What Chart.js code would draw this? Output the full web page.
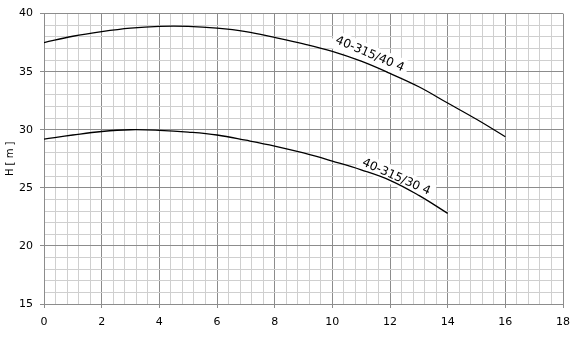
<!DOCTYPE html>
<html>
<head>
<meta charset="utf-8">
<script src="https://cdn.jsdelivr.net/npm/chart.js@4.4.1/dist/chart.umd.min.js"></script>
<style>
  body { margin: 0; background: #fff; }
  #wrap { width: 580px; height: 340px; }
</style>
</head>
<body>
<div id="wrap"><canvas id="myChart" width="580" height="340"></canvas></div>
<script>
// flow Q (x) and head H for both pump curves
var flow40 = [0, 1, 2, 3, 4, 5, 6, 7, 8, 9, 10, 11, 12, 13, 14, 15, 16];
var head40 = [37.5, 38.05, 38.45, 38.75, 38.9, 38.9, 38.75, 38.45, 37.95, 37.4, 36.75, 35.9, 34.85, 33.7, 32.3, 30.9, 29.4];
var flow30 = [0, 1, 2, 3, 4, 5, 6, 7, 8, 9, 10, 11, 12, 13, 14];
var head30 = [29.2, 29.55, 29.85, 30.0, 29.95, 29.8, 29.55, 29.1, 28.6, 28.0, 27.3, 26.55, 25.65, 24.35, 22.8];

var seriesNames = ['40-315/40 4', '40-315/30 4'];
// where each curve label sits (data coords) and its slope in degrees
var labelPos = [[11.3, 36.5, 23], [12.22, 25.92, 24]];

var xTicks = { min: 0, max: 18, major: 2, minor: 0.4 };
var yTicks = { min: 15, max: 40, major: 5, minor: 1 };

function toPoints(xs, ys) {
  var pts = [];
  for (var i = 0; i < xs.length; i++) pts.push({ x: xs[i], y: ys[i] });
  return pts;
}

function isMajor(v, step) {
  return Math.abs(v / step - Math.round(v / step)) < 1e-6;
}

// labels go under the curves, the white box only hides the grid
var curveLabels = {
  id: 'curveLabels',
  beforeDatasetsDraw: function (chart) {
    var c = chart.ctx;
    var xs = chart.scales.x, ys = chart.scales.y;
    c.save();
    c.font = '12px "DejaVu Sans"';
    for (var i = 0; i < seriesNames.length; i++) {
      var px = xs.getPixelForValue(labelPos[i][0]);
      var py = ys.getPixelForValue(labelPos[i][1]);
      var w = c.measureText(seriesNames[i]).width;
      c.save();
      c.translate(px, py);
      c.rotate(labelPos[i][2] * Math.PI / 180);
      c.fillStyle = '#fff';
      c.fillRect(-w / 2 - 4, -9, w + 8, 18);
      c.fillStyle = '#000';
      c.textAlign = 'center';
      c.textBaseline = 'middle';
      c.fillText(seriesNames[i], 0, 0);
      c.restore();
    }
    c.restore();
  }
};

function gridOpts(step) {
  return {
    color: function (ctx) { return isMajor(ctx.tick.value, step) ? '#8c8c8c' : '#cfcfcf'; },
    tickColor: function (ctx) { return isMajor(ctx.tick.value, step) ? '#8c8c8c' : 'rgba(0,0,0,0)'; },
    tickLength: 4,
    lineWidth: 1,
    drawTicks: true
  };
}

var ctx = document.getElementById('myChart');
new Chart(ctx, {
  type: 'line',
  data: {
    datasets: [{
      label: seriesNames[0],
      data: toPoints(flow40, head40),
      borderColor: '#000',
      borderWidth: 1.3,
      pointRadius: 0,
      tension: 0.4,
      fill: false
    }, {
      label: seriesNames[1],
      data: toPoints(flow30, head30),
      borderColor: '#000',
      borderWidth: 1.3,
      pointRadius: 0,
      tension: 0.4,
      fill: false
    }]
  },
  options: {
    responsive: false,
    animation: false,
    layout: { padding: { top: 11, right: 17, left: 0, bottom: 0 } },
    plugins: { legend: { display: false }, tooltip: { enabled: false } },
    scales: {
      x: {
        type: 'linear',
        min: xTicks.min,
        max: xTicks.max,
        border: { color: '#8c8c8c' },
        grid: gridOpts(xTicks.major),
        ticks: {
          stepSize: xTicks.minor,
          autoSkip: false,
          maxRotation: 0,
          padding: 8,
          color: '#000',
          font: { family: 'DejaVu Sans', size: 11 },
          callback: function (v) { return isMajor(v, xTicks.major) ? String(Math.round(v)) : ''; }
        },
        afterFit: function (s) { s.height = 36; }
      },
      y: {
        type: 'linear',
        min: yTicks.min,
        max: yTicks.max,
        border: { color: '#8c8c8c' },
        grid: gridOpts(yTicks.major),
        title: {
          display: true,
          text: 'H [ m ]',
          color: '#000',
          font: { family: 'DejaVu Sans', size: 10 },
          padding: { top: 4, bottom: 0 }
        },
        ticks: {
          stepSize: yTicks.minor,
          autoSkip: false,
          padding: 7,
          color: '#000',
          font: { family: 'DejaVu Sans', size: 11 },
          callback: function (v) { return isMajor(v, yTicks.major) ? String(Math.round(v)) : ''; }
        },
        afterFit: function (s) { s.width = 44; }
      }
    }
  },
  plugins: [curveLabels]
});
</script>
</body>
</html>
